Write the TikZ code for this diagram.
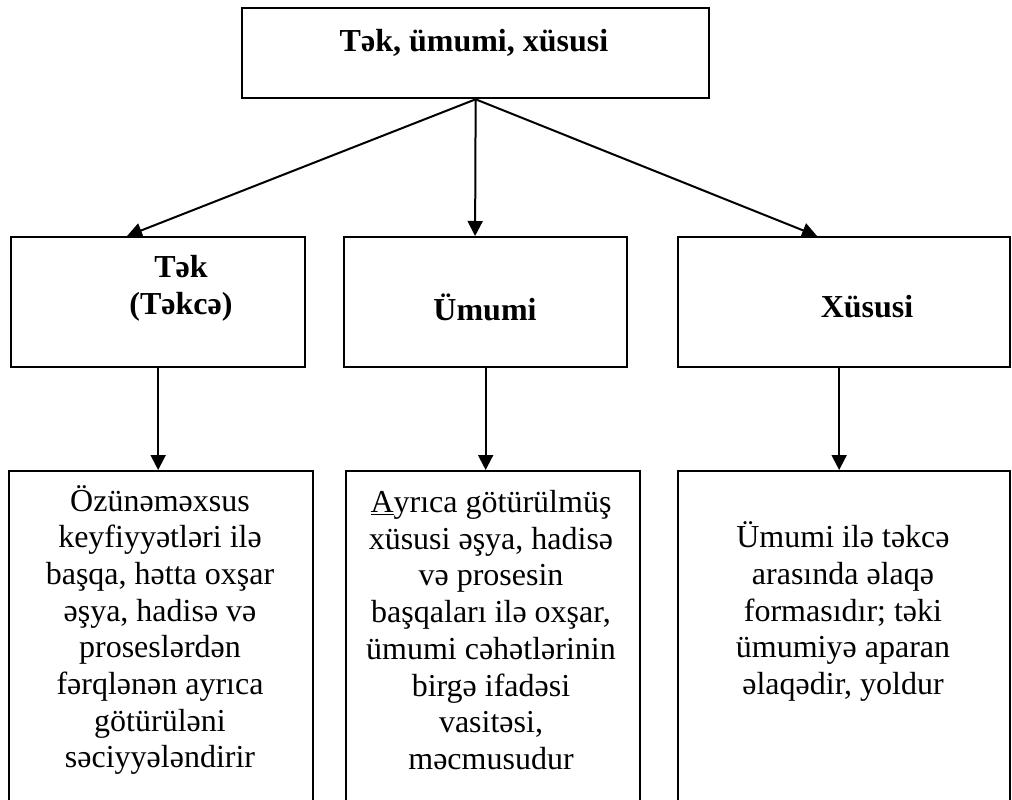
\documentclass[tikz,border=0pt]{standalone}
\usepackage{fontspec}
\setmainfont{Liberation Serif}
\usetikzlibrary{arrows.meta,calc}
\begin{document}
\begin{tikzpicture}[x=1pt,y=-1pt,
  box/.style={draw=black,line width=2.3pt,rectangle,inner sep=0pt,anchor=north west},
  txt/.style={align=center,inner sep=0pt,font=\fontsize{32}{36.7}\selectfont},
  btxt/.style={txt,font=\fontsize{32}{37}\selectfont\bfseries},
  arr/.style={line width=2pt,-{Triangle[length=15pt,width=15pt]}}]
\useasboundingbox (0,0) rectangle (1012,800);
\clip (0,0) rectangle (1012,800);
% boxes
\node[box,minimum width=467pt,minimum height=90pt] (top) at (241,7) {};
\node[box,minimum width=294pt,minimum height=130pt] (m1) at (10,236) {};
\node[box,minimum width=283pt,minimum height=130pt] (m2) at (343,236) {};
\node[box,minimum width=332pt,minimum height=130pt] (m3) at (677,236) {};
\node[box,minimum width=304pt,minimum height=340pt] (b1) at (8,470) {};
\node[box,minimum width=294pt,minimum height=340pt] (b2) at (345,470) {};
\node[box,minimum width=332pt,minimum height=340pt] (b3) at (677,470) {};
% texts
\node[btxt] (ttop) at (474,43) {Tək, ümumi, xüsusi};
\node[btxt] (tm1) at (181,288.5) {Tək\\(Təkcə)};
\node[btxt] (tm2) at (485,307) {Ümumi};
\node[btxt] (tm3) at (867,307) {Xüsusi};
\node[txt] (tb1) at (160,630) {Özünəməxsus\\keyfiyyətləri ilə\\başqa, hətta oxşar\\əşya, hadisə və\\proseslərdən\\fərqlənən ayrıca\\götürüləni\\səciyyələndirir};
\node[txt] (tb2) at (491,630) {\underline{A}yrıca götürülmüş\\xüsusi əşya, hadisə\\və prosesin\\başqaları ilə oxşar,\\ümumi cəhətlərinin\\birgə ifadəsi\\vasitəsi,\\məcmusudur};
\node[txt] (tb3) at (843,611.5) {Ümumi ilə təkcə\\arasında əlaqə\\formasıdır; təki\\ümumiyə aparan\\əlaqədir, yoldur};
% connectors
\draw[arr] (top.south) -- ($(m1.north west)!0.395!(m1.north east)$);
\draw[arr] (top.south) -- ($(m2.north west)!0.463!(m2.north east)$);
\draw[arr] (top.south) -- ($(m3.north west)!0.419!(m3.north east)$);
\draw[arr] (m1.south) -- (m1.south |- b1.north);
\draw[arr] (m2.south) -- (m2.south |- b2.north);
\draw[arr] ([xshift=-5pt]m3.south) -- ([xshift=-5pt]m3.south |- b3.north);
\end{tikzpicture}
\end{document}
